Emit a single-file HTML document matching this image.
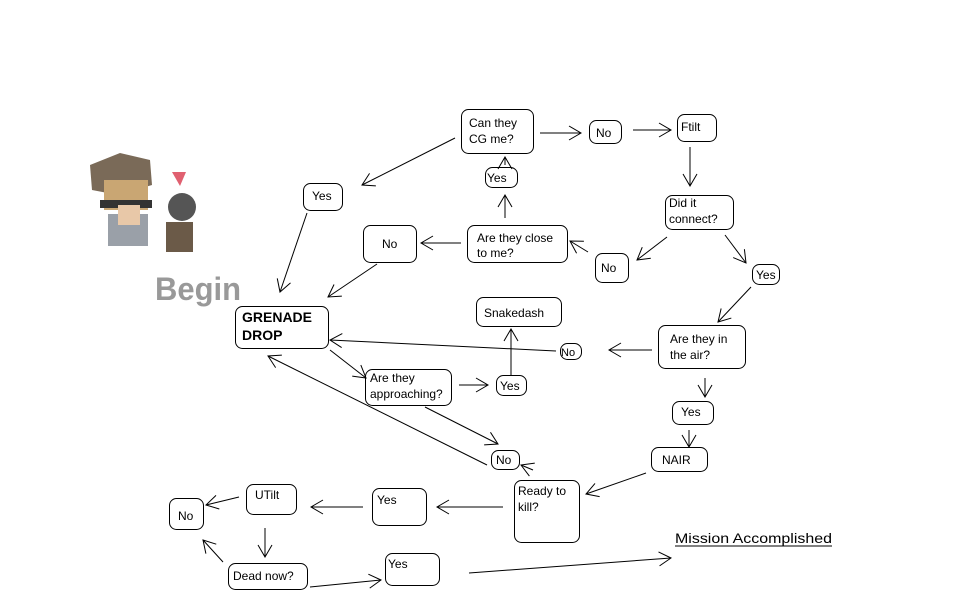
<!DOCTYPE html>
<html><head><meta charset="utf-8"><style>
html,body{margin:0;padding:0;background:#fff;}
svg{display:block;font-family:"Liberation Sans",sans-serif;}
</style></head><body>
<svg width="962" height="616" viewBox="0 0 962 616">
<defs>
<marker id="a" markerWidth="16" markerHeight="16" refX="14" refY="8" orient="auto" markerUnits="userSpaceOnUse">
<polyline points="2,1 14,8 2,15" fill="none" stroke="#000" stroke-width="1"/>
</marker>
</defs>
<rect width="962" height="616" fill="#fff"/>
<polygon points="90,165 120,153 150,160 152,185 118,195 92,190" fill="#7a6a58"/>
<rect x="104" y="180" width="44" height="30" fill="#c9a673"/>
<rect x="100" y="200" width="52" height="8" fill="#333"/>
<rect x="108" y="214" width="40" height="32" fill="#9aa0a8"/>
<rect x="118" y="205" width="22" height="20" fill="#e8c8a8"/>
<circle cx="182" cy="207" r="14" fill="#555"/>
<rect x="166" y="222" width="27" height="30" fill="#6b5a48"/>
<polygon points="172,172 186,172 180,186" fill="#e06070"/>
<text x="155" y="300" font-size="32" font-weight="bold" fill="#999" textLength="86" lengthAdjust="spacingAndGlyphs">Begin</text>
<g fill="#fff" stroke="#000" stroke-width="1">
<rect x="461.5" y="109.5" width="72" height="44" rx="7"/>
<rect x="589.5" y="120.5" width="32" height="23" rx="7"/>
<rect x="677.5" y="114.5" width="39" height="27" rx="7"/>
<rect x="485.5" y="167.5" width="32" height="20" rx="7"/>
<rect x="665.5" y="195.5" width="68" height="34" rx="7"/>
<rect x="303.5" y="183.5" width="39" height="27" rx="7"/>
<rect x="363.5" y="225.5" width="53" height="37" rx="7"/>
<rect x="467.5" y="225.5" width="100" height="37" rx="7"/>
<rect x="595.5" y="253.5" width="33" height="29" rx="7"/>
<rect x="752.5" y="264.5" width="27" height="20" rx="7"/>
<rect x="476.5" y="297.5" width="85" height="29" rx="7"/>
<rect x="235.5" y="306.5" width="93" height="42" rx="7"/>
<rect x="658.5" y="325.5" width="87" height="43" rx="7"/>
<rect x="560.5" y="343.5" width="21" height="16" rx="7"/>
<rect x="365.5" y="369.5" width="86" height="36" rx="7"/>
<rect x="496.5" y="375.5" width="30" height="20" rx="7"/>
<rect x="672.5" y="401.5" width="41" height="23" rx="7"/>
<rect x="491.5" y="450.5" width="28" height="19" rx="7"/>
<rect x="651.5" y="447.5" width="56" height="24" rx="7"/>
<rect x="514.5" y="480.5" width="65" height="62" rx="7"/>
<rect x="372.5" y="488.5" width="54" height="37" rx="7"/>
<rect x="246.5" y="484.5" width="50" height="30" rx="7"/>
<rect x="169.5" y="498.5" width="34" height="31" rx="7"/>
<rect x="228.5" y="563.5" width="79" height="26" rx="7"/>
<rect x="385.5" y="553.5" width="54" height="32" rx="7"/>
</g>
<g font-size="12" fill="#000">
<text x="469" y="127">Can they</text><text x="469" y="143">CG me?</text>
<text x="596" y="137">No</text>
<text x="681" y="131">Ftilt</text>
<text x="487" y="182">Yes</text>
<text x="669" y="207">Did it</text><text x="669" y="223">connect?</text>
<text x="312" y="200">Yes</text>
<text x="382" y="248">No</text>
<text x="477" y="242">Are they close</text><text x="477" y="257">to me?</text>
<text x="601" y="272">No</text>
<text x="756" y="279">Yes</text>
<text x="484" y="317">Snakedash</text>
<text x="242" y="322" font-size="14" font-weight="bold">GRENADE</text>
<text x="242" y="340" font-size="14" font-weight="bold">DROP</text>
<text x="670" y="343">Are they in</text><text x="670" y="359">the air?</text>
<text x="561" y="356" font-size="11">No</text>
<text x="370" y="382">Are they</text><text x="370" y="398">approaching?</text>
<text x="500" y="390">Yes</text>
<text x="681" y="416">Yes</text>
<text x="496" y="464">No</text>
<text x="662" y="464">NAIR</text>
<text x="518" y="495">Ready to</text><text x="518" y="511">kill?</text>
<text x="377" y="504">Yes</text>
<text x="255" y="499">UTilt</text>
<text x="178" y="520">No</text>
<text x="233" y="580">Dead now?</text>
<text x="388" y="568">Yes</text>
<text x="675" y="543" font-size="14" textLength="157" lengthAdjust="spacingAndGlyphs">Mission Accomplished</text>
</g>
<line x1="675" y1="546" x2="832" y2="546" stroke="#000"/>
<g stroke="#000" stroke-width="1" fill="none" marker-end="url(#a)">
<line x1="455" y1="138" x2="362" y2="185"/>
<line x1="540" y1="133" x2="581" y2="133"/>
<line x1="633" y1="130" x2="671" y2="130"/>
<line x1="690" y1="147" x2="690" y2="186"/>
<line x1="505" y1="165" x2="505" y2="157"/>
<line x1="505" y1="218" x2="505" y2="195"/>
<line x1="667" y1="237" x2="637" y2="260"/>
<line x1="725" y1="235" x2="746" y2="263"/>
<line x1="588" y1="252" x2="570" y2="241"/>
<line x1="461" y1="243" x2="421" y2="243"/>
<line x1="307" y1="213" x2="280" y2="292"/>
<line x1="377" y1="264" x2="328" y2="297"/>
<line x1="511" y1="376" x2="511" y2="329"/>
<line x1="751" y1="287" x2="718" y2="322"/>
<line x1="556" y1="351" x2="330" y2="340"/>
<line x1="652" y1="350" x2="609" y2="350"/>
<line x1="705" y1="378" x2="705" y2="397"/>
<line x1="689" y1="430" x2="689" y2="447"/>
<line x1="330" y1="350" x2="366" y2="378"/>
<line x1="459" y1="385" x2="488" y2="385"/>
<line x1="425" y1="407" x2="498" y2="444"/>
<line x1="487" y1="465" x2="268" y2="356"/>
<line x1="533" y1="470" x2="521" y2="465"/>
<line x1="646" y1="473" x2="586" y2="494"/>
<line x1="503" y1="507" x2="437" y2="507"/>
<line x1="363" y1="507" x2="311" y2="507"/>
<line x1="265" y1="528" x2="265" y2="557"/>
<line x1="223" y1="562" x2="203" y2="540"/>
<line x1="239" y1="497" x2="206" y2="505"/>
<line x1="310" y1="587" x2="381" y2="580"/>
<line x1="469" y1="573" x2="671" y2="558"/>
</g>
</svg>
</body></html>
